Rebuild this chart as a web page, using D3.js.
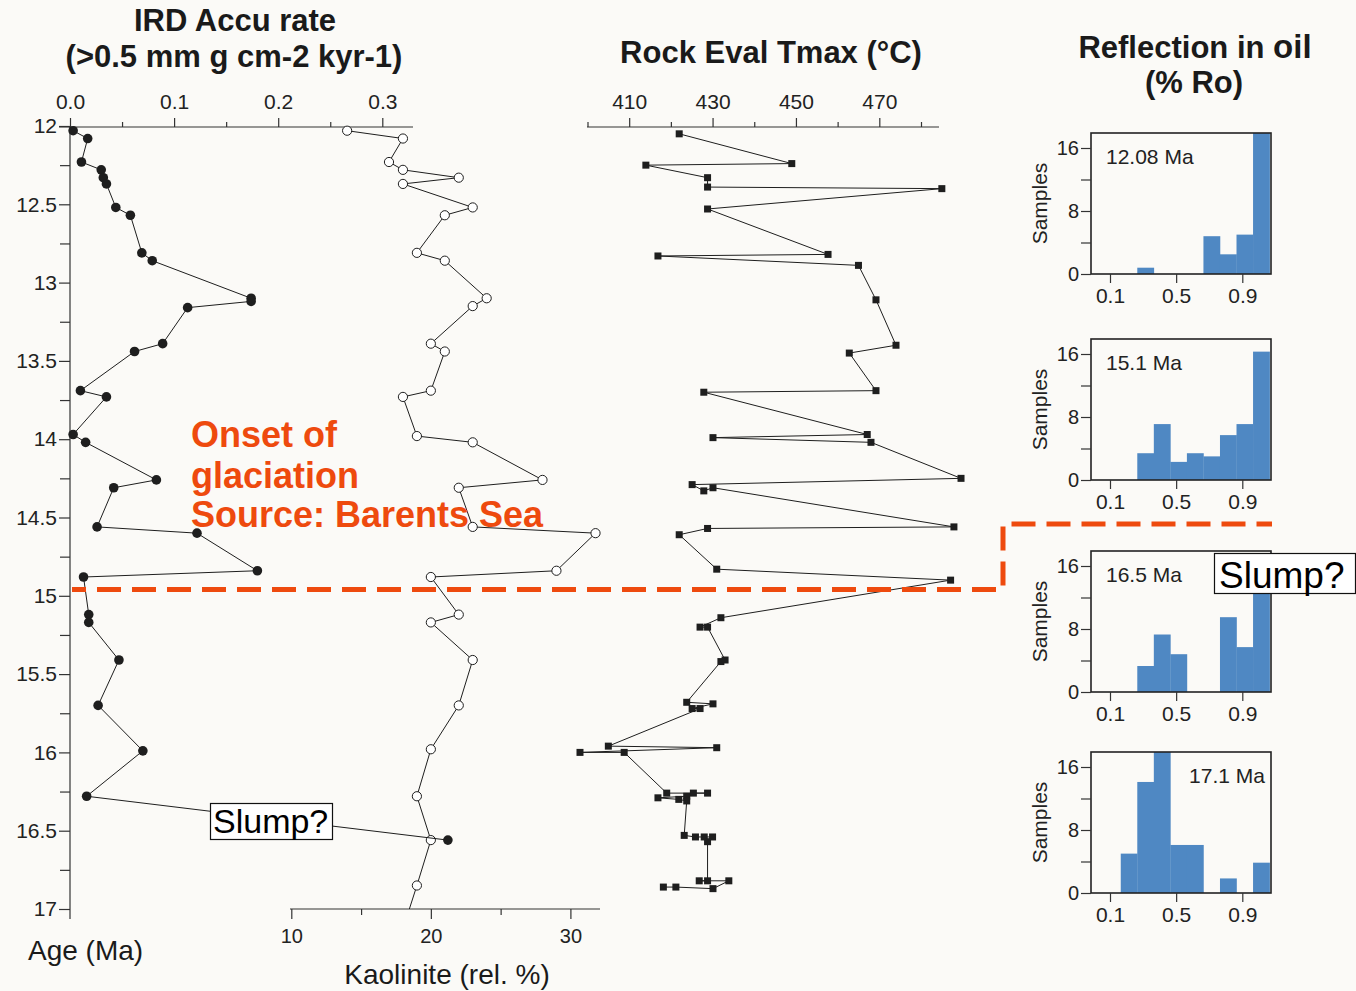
<!DOCTYPE html>
<html>
<head>
<meta charset="utf-8">
<script src="https://cdn.jsdelivr.net/npm/d3@7"></script>
<style>
  body { margin: 0; background: #fbfaf7; }
  svg { display: block; font-family: "Liberation Sans", Arial, sans-serif; }
</style>
</head>
<body>
<script>
var width = 1356, height = 991

// IRD accumulation rate (filled circles)
var irdAge  = [12.03, 12.08, 12.23, 12.28, 12.33, 12.37, 12.52, 12.57, 12.81, 12.86, 13.10, 13.12, 13.16, 13.39, 13.44,
               13.69, 13.73, 13.97, 14.02, 14.26, 14.31, 14.56, 14.60, 14.84, 14.88, 15.12, 15.17, 15.41, 15.70, 15.99,
               16.28, 16.56]
var irdRate = [0.003, 0.017, 0.011, 0.030, 0.032, 0.035, 0.044, 0.058, 0.069, 0.079, 0.174, 0.174, 0.113, 0.089, 0.062,
               0.010, 0.035, 0.003, 0.015, 0.083, 0.042, 0.026, 0.122, 0.180, 0.013, 0.018, 0.018, 0.047, 0.027, 0.070,
               0.016, 0.363]

// kaolinite (open circles), last sample lies below the axis
var kaoAge = [12.03, 12.08, 12.23, 12.28, 12.33, 12.37, 12.52, 12.57, 12.81, 12.86, 13.10, 13.15, 13.39, 13.44, 13.69,
              13.73, 13.98, 14.02, 14.26, 14.31, 14.56, 14.60, 14.84, 14.88, 15.12, 15.17, 15.41, 15.70, 15.98, 16.28,
              16.56, 16.85, 17.10]
var kaoPct = [14, 18, 17, 18, 22, 18, 23, 21, 19, 21, 24, 23, 20, 21, 20,
              18, 19, 23, 28, 22, 23, 31.8, 29, 20, 22, 20, 23, 22, 20, 19,
              20, 19, 18.1]

// Rock Eval Tmax (filled squares)
var tmaxAge = [12.05, 12.24, 12.25, 12.33, 12.39, 12.40, 12.53, 12.82, 12.83, 12.89, 13.11, 13.40, 13.45, 13.69, 13.70,
               13.97, 13.99, 14.02, 14.25, 14.29, 14.33, 14.31, 14.56, 14.57, 14.61, 14.83, 14.90, 15.14, 15.20, 15.20,
               15.41, 15.42, 15.68, 15.69, 15.72, 15.72, 15.96, 15.97, 16.00, 16.00, 16.26, 16.26, 16.26, 16.28, 16.29,
               16.30, 16.31, 16.53, 16.54, 16.54, 16.54, 16.57, 16.82, 16.82, 16.82, 16.87, 16.86, 16.86]
var tmaxVal = [422.0, 449.0, 414.0, 428.8, 428.8, 485.0, 428.8, 457.7, 416.9, 465.0, 469.2, 474.0, 462.8, 469.2, 427.9,
               467.1, 430.1, 468.0, 489.6, 425.1, 427.9, 430.1, 487.9, 428.8, 422.0, 431.0, 487.1, 432.0, 427.0, 428.8,
               433.0, 432.0, 423.8, 430.1, 425.1, 427.0, 405.0, 431.0, 398.2, 408.8, 419.0, 428.8, 425.4, 423.8, 416.9,
               421.9, 423.8, 423.2, 425.9, 428.0, 430.0, 428.8, 428.8, 426.8, 433.9, 430.1, 421.2, 418.2]

var ageTicks = [12, 12.5, 13, 13.5, 14, 14.5, 15, 15.5, 16, 16.5, 17]
var ageMinor = [12.25, 12.75, 13.25, 13.75, 14.25, 14.75, 15.25, 15.75, 16.25, 16.75]
var irdTicks = [0, 0.1, 0.2, 0.3]
var irdMinor = [0.05, 0.15, 0.25]
var kaoTicks = [10, 20, 30]
var kaoMinor = [15, 25]
var tmaxTicks = [410, 430, 450, 470]
var tmaxMinor = [400, 420, 440, 460, 480]

// vitrinite reflectance histograms
var roLabels = ["12.08 Ma", "15.1 Ma", "16.5 Ma", "17.1 Ma"]
var roBins = [0.165, 0.265, 0.365, 0.465, 0.565, 0.665, 0.765, 0.865, 0.965, 1.065]
var roCounts = [
  [0, 0.8, 0, 0, 0, 4.8, 2.5, 5.0, 18],
  [0, 3.4, 7.1, 2.3, 3.4, 3.0, 5.7, 7.1, 16.3],
  [0, 3.3, 7.3, 4.8, 0, 0, 9.5, 5.7, 15],
  [5.0, 14.1, 18, 6.1, 6.1, 0, 1.85, 0, 3.85]
]
var roXTicks = [0.1, 0.5, 0.9]
var roYTicks = [0, 4, 8, 12, 16]

var red = "#ee4a0e", ink = "#1e1e1e"

var svg = d3.select("body").append("svg")
    .attr("width", width)
    .attr("height", height)

var y = d3.scaleLinear().domain([12, 17]).range([126, 909])
var xIrd = d3.scaleLinear().domain([0, 0.3]).range([70, 382.3])
var xKao = d3.scaleLinear().domain([10, 30]).range([291.3, 570.4])
var xTmax = d3.scaleLinear().domain([400, 480]).range([587.5, 921])

function minorAxis(axisFn, scale, vals, size) {
  return axisFn(scale).tickValues(vals).tickSize(size).tickSizeOuter(0).tickFormat("")
}

function styleAxis(g) {
  g.select(".domain").remove()
  g.selectAll("line").attr("stroke", "#333").attr("stroke-width", 1.2)
  g.selectAll("text").attr("fill", "#222").attr("font-family", "Liberation Sans, Arial, sans-serif")
}

// ---- age axis
var gAge = svg.append("g").attr("transform", "translate(70,0)")
gAge.append("g")
    .call(d3.axisLeft(y).tickValues(ageTicks).tickSize(11).tickSizeOuter(0).tickPadding(2).tickFormat(d3.format("")))
    .call(styleAxis)
    .selectAll("text").attr("font-size", 21)
gAge.append("g").call(minorAxis(d3.axisLeft, y, ageMinor, 10)).call(styleAxis)
gAge.append("line").attr("y1", y(12)).attr("y2", y(17)).attr("stroke", "#333").attr("stroke-width", 1.2)
gAge.append("line").attr("y1", y(17)).attr("y2", y(17) + 10).attr("stroke", "#333").attr("stroke-width", 1.2)

// ---- IRD top axis
var gIrd = svg.append("g").attr("transform", "translate(0,127)")
gIrd.append("g")
    .call(d3.axisTop(xIrd).tickValues(irdTicks).tickSize(9).tickSizeOuter(0).tickPadding(9).tickFormat(d3.format(".1f")))
    .call(styleAxis)
    .selectAll("text").attr("font-size", 21)
gIrd.append("g").call(minorAxis(d3.axisTop, xIrd, irdMinor, 5)).call(styleAxis)
gIrd.append("line").attr("x1", 59).attr("x2", 413).attr("stroke", "#333").attr("stroke-width", 1.2)

// ---- Tmax top axis
var gTm = svg.append("g").attr("transform", "translate(0,127)")
gTm.append("g")
    .call(d3.axisTop(xTmax).tickValues(tmaxTicks).tickSize(9).tickSizeOuter(0).tickPadding(9).tickFormat(d3.format("d")))
    .call(styleAxis)
    .selectAll("text").attr("font-size", 21)
gTm.append("g").call(minorAxis(d3.axisTop, xTmax, tmaxMinor, 5)).call(styleAxis)
gTm.append("line").attr("x1", 587).attr("x2", 939).attr("stroke", "#333").attr("stroke-width", 1.2)

// ---- kaolinite bottom axis
var gKao = svg.append("g").attr("transform", "translate(0,909)")
gKao.append("g")
    .call(d3.axisBottom(xKao).tickValues(kaoTicks).tickSize(10).tickSizeOuter(0).tickPadding(10).tickFormat(d3.format("d")))
    .call(styleAxis)
    .selectAll("text").attr("font-size", 20)
gKao.append("g").call(minorAxis(d3.axisBottom, xKao, kaoMinor, 6)).call(styleAxis)
gKao.append("line").attr("x1", 290).attr("x2", 600).attr("stroke", "#333").attr("stroke-width", 1.2)

// ---- titles
function label(x, yy, txt, size, opts) {
  opts = opts || {}
  return svg.append("text")
      .attr("x", x).attr("y", yy)
      .attr("font-size", size)
      .attr("font-weight", opts.bold ? "bold" : null)
      .attr("text-anchor", opts.anchor || "start")
      .attr("fill", opts.fill || "#1a1a1a")
      .text(txt)
}
label(235, 31, "IRD Accu rate", 31, {bold: true, anchor: "middle"})
label(234, 67, "(>0.5 mm g cm-2 kyr-1)", 31, {bold: true, anchor: "middle"})
label(771, 63, "Rock Eval Tmax (°C)", 31, {bold: true, anchor: "middle"})
var refl = label(1195, 58, "Reflection in ", 31, {bold: true, anchor: "middle"})
refl.append("tspan").attr("font-size", 33).text("oil")
label(1194, 93, "(% Ro)", 31, {bold: true, anchor: "middle"})
label(28, 960, "Age (Ma)", 28)
label(447, 984, "Kaolinite (rel. %)", 28, {anchor: "middle"})

// ---- kaolinite series
svg.append("clipPath").attr("id", "plotClip")
  .append("rect").attr("x", 0).attr("y", 0).attr("width", 1000).attr("height", y(17))

var kao = kaoAge.map(function(a, i) { return [a, kaoPct[i]] })
var gK = svg.append("g").attr("clip-path", "url(#plotClip)")
gK.append("path")
    .datum(kao)
    .attr("fill", "none").attr("stroke", ink).attr("stroke-width", 1)
    .attr("d", d3.line().x(function(d) { return xKao(d[1]) }).y(function(d) { return y(d[0]) }))

// ---- IRD series
var ird = irdAge.map(function(a, i) { return [a, irdRate[i]] })
svg.append("path")
    .datum(ird)
    .attr("fill", "none").attr("stroke", ink).attr("stroke-width", 1)
    .attr("d", d3.line().x(function(d) { return xIrd(d[1]) }).y(function(d) { return y(d[0]) }))

// ---- Tmax series
var tm = tmaxAge.map(function(a, i) { return [a, tmaxVal[i]] })
svg.append("path")
    .datum(tm)
    .attr("fill", "none").attr("stroke", ink).attr("stroke-width", 1)
    .attr("d", d3.line().x(function(d) { return xTmax(d[1]) }).y(function(d) { return y(d[0]) }))

gK.selectAll("circle").data(kao).enter().append("circle")
    .attr("cx", function(d) { return xKao(d[1]) })
    .attr("cy", function(d) { return y(d[0]) })
    .attr("r", 4.6)
    .attr("fill", "#fff").attr("stroke", ink).attr("stroke-width", 1)

svg.append("g").selectAll("circle").data(ird).enter().append("circle")
    .attr("cx", function(d) { return xIrd(d[1]) })
    .attr("cy", function(d) { return y(d[0]) })
    .attr("r", 4.8)
    .attr("fill", ink)

svg.append("g").selectAll("rect").data(tm).enter().append("rect")
    .attr("x", function(d) { return xTmax(d[1]) - 3.5 })
    .attr("y", function(d) { return y(d[0]) - 3.5 })
    .attr("width", 7).attr("height", 7)
    .attr("fill", ink)

// ---- onset of glaciation line + annotation
svg.append("path")
    .attr("d", "M72,589.5H1003V524H1272")
    .attr("fill", "none").attr("stroke", red).attr("stroke-width", 5)
    .attr("stroke-dasharray", "24,11").attr("stroke-dashoffset", 10)

label(191, 447, "Onset of", 36, {bold: true, fill: red})
label(191, 488, "glaciation", 36, {bold: true, fill: red})
label(191, 527, "Source: Barents Sea", 36, {bold: true, fill: red})

// ---- histograms
var xRo = d3.scaleLinear().domain([0.1, 0.9]).range([1110, 1242.3])
var panelTop = [133, 339, 551, 752]
var panelH = 141, panelL = 1091, panelR = 1271

roCounts.forEach(function(counts, p) {
  var top = panelTop[p]
  var yRo = d3.scaleLinear().domain([0, 16]).range([top + panelH, top + panelH - 126])
  var g = svg.append("g")
  var bins = counts.map(function(c, i) { return {x0: roBins[i], x1: roBins[i + 1], n: c} })

  g.selectAll("rect.bar").data(bins.filter(function(b) { return b.n > 0 })).enter().append("rect")
      .attr("class", "bar")
      .attr("x", function(b) { return xRo(b.x0) })
      .attr("width", function(b) { return xRo(b.x1) - xRo(b.x0) + 0.3 })
      .attr("y", function(b) { return Math.max(top, yRo(b.n)) })
      .attr("height", function(b) { return yRo(0) - Math.max(top, yRo(b.n)) })
      .attr("fill", "#4f88c3")

  g.append("rect")
      .attr("x", panelL).attr("y", top).attr("width", panelR - panelL).attr("height", panelH)
      .attr("fill", "none").attr("stroke", "#222").attr("stroke-width", 1.6)

  g.append("g").attr("transform", "translate(" + panelL + ",0)")
      .call(d3.axisLeft(yRo).tickValues(roYTicks).tickSize(10).tickSizeOuter(0).tickPadding(2)
        .tickFormat(function(d) { return d % 8 === 0 ? d : "" }))
      .call(styleAxis)
      .selectAll("text").attr("font-size", 20)

  g.append("g").attr("transform", "translate(0," + (top + panelH) + ")")
      .call(d3.axisBottom(xRo).tickValues(roXTicks).tickSize(9).tickSizeOuter(0).tickPadding(5).tickFormat(d3.format(".1f")))
      .call(styleAxis)
      .selectAll("text").attr("font-size", 21)

  g.append("text")
      .attr("transform", "translate(1047," + (top + panelH / 2) + ") rotate(-90)")
      .attr("text-anchor", "middle").attr("font-size", 21).attr("fill", "#222")
      .text("Samples")

  var right = p === 3
  g.append("text")
      .attr("x", right ? 1265 : 1106).attr("y", top + 31)
      .attr("text-anchor", right ? "end" : "start")
      .attr("font-size", 21).attr("fill", "#222")
      .text(roLabels[p])
})

// ---- slump boxes
function slump(x, yy, w, h, size, tx, ty) {
  svg.append("rect").attr("x", x).attr("y", yy).attr("width", w).attr("height", h)
      .attr("fill", "#fff").attr("stroke", "#111").attr("stroke-width", 1.2)
  label(tx, ty, "Slump?", size, {fill: "#000"})
}
slump(210.5, 803.5, 122, 36, 34, 213, 833)
slump(1214.5, 553.5, 141, 40, 37, 1219, 588)
</script>
</body>
</html>
